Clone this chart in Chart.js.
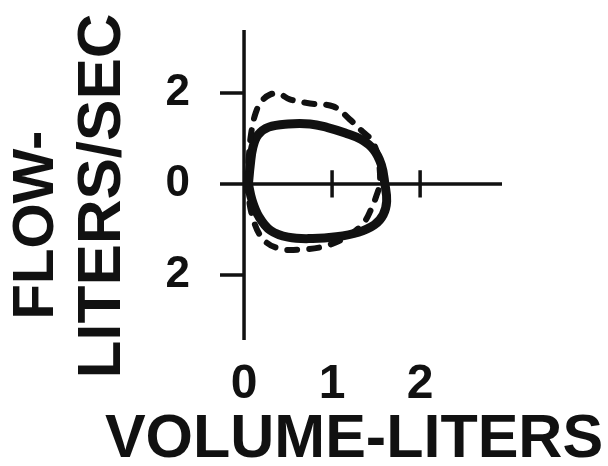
<!DOCTYPE html>
<html><head><meta charset="utf-8">
<script src="https://cdn.jsdelivr.net/npm/chart.js@4/dist/chart.umd.min.js"></script>
<style>html,body{margin:0;padding:0;background:#fff}canvas{display:block}</style>
</head><body>
<canvas id="c" width="608" height="466"></canvas>
<script>
// Tick values and labels
const xTickValues = [0, 1, 2];
const yTickValues = [-2, 0, 2];
const xTitle = 'VOLUME-LITERS';
const yTitleLines = ['FLOW-', 'LITERS/SEC'];

// Solid loop (volume in liters, flow in liters/sec; expiration up)
const solidVolume = [0.05, 0.07, 0.10, 0.16, 0.28, 0.50, 0.75, 0.95, 1.15, 1.33, 1.47, 1.56, 1.60, 1.62, 1.58, 1.48, 1.30, 1.05, 0.78, 0.50, 0.30, 0.17, 0.09, 0.05];
const solidFlow   = [0.00, 0.40, 0.80, 1.08, 1.25, 1.32, 1.32, 1.24, 1.12, 0.98, 0.76, 0.42, 0.00, -0.38, -0.68, -0.90, -1.06, -1.16, -1.20, -1.17, -1.02, -0.72, -0.35, 0.00];

// Dashed loop
const dashedVolume = [0.03, 0.05, 0.08, 0.13, 0.20, 0.30, 0.40, 0.52, 0.75, 1.02, 1.20, 1.33, 1.44, 1.51, 1.54, 1.54, 1.50, 1.44, 1.36, 1.20, 0.95, 0.65, 0.40, 0.22, 0.10, 0.03];
const dashedFlow   = [0.00, 0.50, 1.10, 1.55, 1.82, 1.97, 1.98, 1.86, 1.77, 1.70, 1.42, 1.18, 0.98, 0.70, 0.35, 0.00, -0.28, -0.57, -0.85, -1.12, -1.35, -1.44, -1.42, -1.22, -0.75, 0.00];

const toPoints = (xs, ys) => xs.map((v, i) => ({ x: v, y: ys[i] }));
const FONT = "'Liberation Sans', Arial, sans-serif";
const INK = '#111';

const crossAxes = {
  id: 'crossAxes',
  beforeDatasetsDraw(chart) {
    const { ctx, chartArea: a, scales: { x, y } } = chart;
    const x0 = x.getPixelForValue(0), y0 = y.getPixelForValue(0);
    ctx.save();
    ctx.strokeStyle = INK;
    ctx.lineWidth = 3.5;
    ctx.beginPath();
    ctx.moveTo(x0, a.top); ctx.lineTo(x0, a.bottom);
    ctx.moveTo(a.left, y0); ctx.lineTo(a.right, y0);
    yTickValues.forEach(v => {
      if (v !== 0) { const p = y.getPixelForValue(v); ctx.moveTo(a.left, p); ctx.lineTo(x0, p); }
    });
    xTickValues.forEach(v => {
      if (v !== 0) { const p = x.getPixelForValue(v); ctx.moveTo(p, y.getPixelForValue(0.3)); ctx.lineTo(p, y.getPixelForValue(-0.3)); }
    });
    ctx.stroke();
    ctx.restore();
  },
  afterDraw(chart) {
    const { ctx } = chart;
    ctx.save();
    ctx.fillStyle = INK;
    ctx.textAlign = 'center';
    ctx.textBaseline = 'alphabetic';
    ctx.font = "bold 61px " + FONT;
    ctx.fillText(xTitle, 354, 457);
    ctx.save();
    ctx.translate(53, 225);
    ctx.rotate(-Math.PI / 2);
    ctx.font = "bold 58px " + FONT;
    ctx.fillText(yTitleLines[0], 0, 0);
    ctx.restore();
    ctx.save();
    ctx.translate(120, 196);
    ctx.rotate(-Math.PI / 2);
    ctx.font = "bold 62px " + FONT;
    ctx.fillText(yTitleLines[1], 0, 0);
    ctx.restore();
    ctx.restore();
  }
};

new Chart(document.getElementById('c'), {
  type: 'scatter',
  data: {
    datasets: [
      {
        data: toPoints(dashedVolume, dashedFlow),
        showLine: true, pointRadius: 0, borderColor: INK, borderWidth: 6,
        borderDash: [10, 12], borderCapStyle: 'round', tension: 0.4
      },
      {
        data: toPoints(solidVolume, solidFlow),
        showLine: true, pointRadius: 0, borderColor: INK, borderWidth: 9,
        borderCapStyle: 'round', borderJoinStyle: 'round', tension: 0.4
      }
    ]
  },
  options: {
    responsive: false,
    animation: false,
    layout: { padding: { left: 120, right: 106, top: 30, bottom: 26 } },
    plugins: { legend: { display: false }, tooltip: { enabled: false } },
    scales: {
      x: {
        type: 'linear', min: -0.273, max: 2.93,
        grid: { display: false }, border: { display: false },
        afterBuildTicks: s => { s.ticks = xTickValues.map(v => ({ value: v })); },
        afterFit: s => { s.height = 100; s.paddingLeft = 0; s.paddingRight = 0; },
        ticks: { color: INK, padding: 8, maxRotation: 0, font: { family: FONT, size: 48, weight: 'bold' } }
      },
      y: {
        type: 'linear', min: -3.43, max: 3.385,
        grid: { display: false }, border: { display: false },
        afterBuildTicks: s => { s.ticks = yTickValues.map(v => ({ value: v })); },
        afterFit: s => { s.width = 100; s.paddingTop = 0; s.paddingBottom = 0; },
        ticks: { color: INK, padding: 22, callback: v => String(Math.abs(v)), font: { family: FONT, size: 44, weight: 'bold' } }
      }
    }
  },
  plugins: [crossAxes]
});
</script>
</body></html>
